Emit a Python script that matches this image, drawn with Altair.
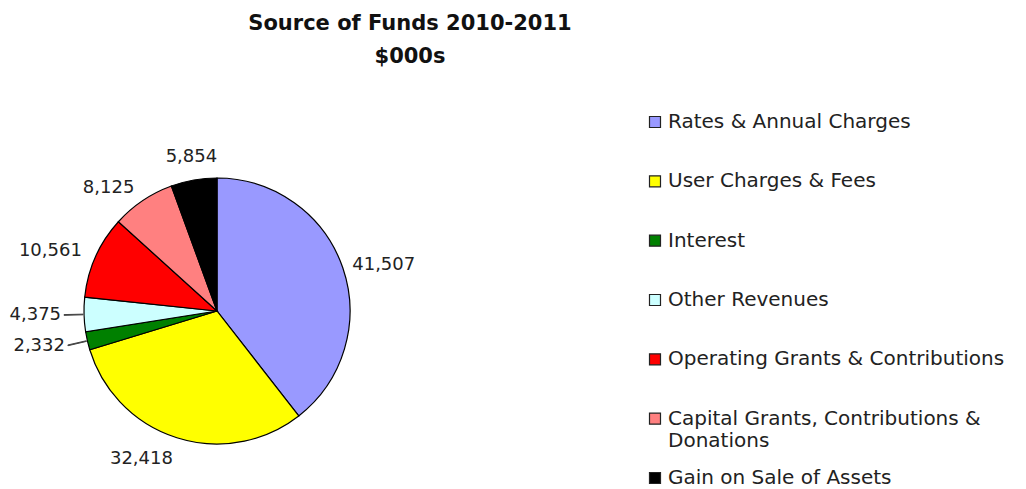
import altair as alt
import pandas as pd
import math

categories = [
    "Rates & Annual Charges",
    "User Charges & Fees",
    "Interest",
    "Other Revenues",
    "Operating Grants & Contributions",
    "Capital Grants, Contributions & Donations",
    "Gain on Sale of Assets",
]
legend_labels = [
    "Rates & Annual Charges",
    "User Charges & Fees",
    "Interest",
    "Other Revenues",
    "Operating Grants & Contributions",
    "Capital Grants, Contributions &\nDonations",
    "Gain on Sale of Assets",
]
values = [41507, 32418, 2332, 4375, 10561, 8125, 5854]
colors = ["#9999FF", "#FFFF00", "#008000", "#CCFFFF", "#FF0000", "#FF8080", "#000000"]
leader_slices = ["Interest", "Other Revenues"]

total = sum(values)
starts, ends = [], []
acc = 0
for v in values:
    starts.append(acc)
    acc += v
    ends.append(acc)

df = pd.DataFrame({
    "category": categories,
    "legend_label": legend_labels,
    "value": values,
    "start": starts,
    "end": ends,
    "mid": [(s + e) / 2 for s, e in zip(starts, ends)],
    "label": [f"{v:,}" for v in values],
})
df["lead0"] = df["mid"] - total * 0.0004
df["lead1"] = df["mid"] + total * 0.0004


def side(row):
    if row["category"] in leader_slices:
        return "leader"
    a = row["mid"] / total * 2 * math.pi
    s, c = math.sin(a), math.cos(a)
    if s > 0.5:
        return "right"
    if s < -0.5:
        return "left"
    if c > 0:
        return "top"
    return "bottom"


df["side"] = df.apply(side, axis=1)

theta_scale = alt.Scale(domain=[0, total], range=[0, 2 * math.pi])
color_scale = alt.Scale(domain=categories, range=colors)

CX, CY = 209, 234
FONT = "DejaVu Sans"
TXT = "#222222"

base = alt.Chart(df)

pie = base.mark_arc(radius=133, stroke="black", strokeWidth=1.2).encode(
    theta=alt.Theta("start:Q", scale=theta_scale),
    theta2="end:Q",
    color=alt.Color("category:N", scale=color_scale, sort=categories, legend=None),
    x=alt.value(CX),
    y=alt.value(CY),
)

leaders = base.transform_filter(alt.datum.side == "leader").mark_arc(
    radius=153, radius2=134, stroke="#444444", strokeWidth=1, fill="#444444"
).encode(
    theta=alt.Theta("lead0:Q", scale=theta_scale),
    theta2="lead1:Q",
    x=alt.value(CX),
    y=alt.value(CY),
)


def label_layer(side_name, radius, align, baseline):
    return base.transform_filter(alt.datum.side == side_name).mark_text(
        radius=radius, align=align, baseline=baseline,
        font=FONT, fontSize=18, color=TXT,
    ).encode(
        theta=alt.Theta("mid:Q", scale=theta_scale),
        text="label:N",
        x=alt.value(CX),
        y=alt.value(CY),
    )


labels = [
    label_layer("right", 143, "left", "middle"),
    label_layer("left", 148, "right", "middle"),
    label_layer("leader", 156, "right", "middle"),
    label_layer("top", 147, "center", "bottom"),
    label_layer("bottom", 146, "right", "top"),
]

legend_y = alt.Y(
    "category:N",
    sort=categories,
    scale=alt.Scale(type="point", range=[45, 401], padding=0),
    axis=None,
)

legend_symbols = base.mark_square(
    size=121, stroke="#222222", strokeWidth=1.2, opacity=1
).encode(
    x=alt.value(647),
    y=legend_y,
    color=alt.Color("category:N", scale=color_scale, sort=categories, legend=None),
)

legend_text = base.mark_text(
    align="left", baseline="middle", font=FONT, fontSize=20, color=TXT,
    lineBreak="\n", lineHeight=22,
).encode(
    x=alt.value(660),
    y=legend_y,
    text="legend_label:N",
)

chart = alt.layer(pie, leaders, *labels, legend_symbols, legend_text).properties(
    width=804,
    height=405,
    title=alt.Title(
        ["Source of Funds 2010-2011", "$000s"],
        font=FONT,
        fontSize=21,
        fontWeight="bold",
        lineHeight=33,
        color="#111111",
        anchor="middle",
        offset=10,
    ),
    padding={"left": 0, "top": 5, "right": 0, "bottom": 0},
).configure_view(stroke=None)

chart.save("out.html", embed_options={"renderer": "svg", "actions": False})
